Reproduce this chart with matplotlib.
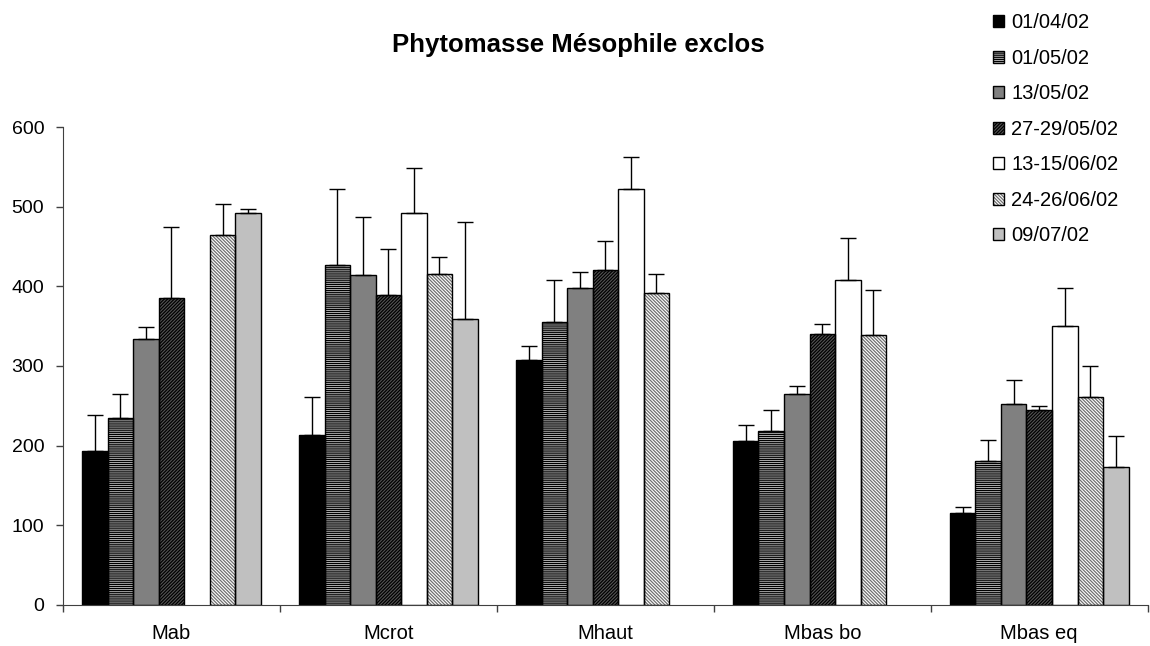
import numpy as np
import matplotlib
matplotlib.use("Agg")
import matplotlib.pyplot as plt
from matplotlib.patches import Patch
from matplotlib.legend_handler import HandlerBase
from matplotlib.patches import Rectangle

plt.rcParams['font.family'] = ['Liberation Sans', 'DejaVu Sans']
plt.rcParams['hatch.linewidth'] = 0.9

categories = ["Mab", "Mcrot", "Mhaut", "Mbas bo", "Mbas eq"]
series_labels = ["01/04/02", "01/05/02", "13/05/02", "27-29/05/02",
                 "13-15/06/02", "24-26/06/02", "09/07/02"]
nan = np.nan
# mean values per series for each category
s_0104 = [193, 214, 307, 206, 115]
s_0105 = [235, 427, 355, 219, 181]
s_1305 = [334, 414, 398, 265, 252]
s_2729 = [385, 389, 421, 340, 245]
s_1315 = [nan, 492, 522, 408, 350]
s_2426 = [465, 416, 391, 339, 261]
s_0907 = [492, 359, nan, nan, 173]
# upper error (top of whisker)
e_0104 = [238, 261, 325, 226, 123]
e_0105 = [265, 522, 408, 245, 207]
e_1305 = [349, 487, 418, 275, 283]
e_2729 = [474, 447, 457, 353, 250]
e_1315 = [nan, 548, 562, 461, 398]
e_2426 = [503, 437, 415, 395, 300]
e_0907 = [497, 481, nan, nan, 212]

values = [s_0104, s_0105, s_1305, s_2729, s_1315, s_2426, s_0907]
tops = [e_0104, e_0105, e_1305, e_2729, e_1315, e_2426, e_0907]
yticks = [0, 100, 200, 300, 400, 500, 600]

styles = [
    dict(facecolor='black', hatch=None, hc='black'),
    dict(facecolor='#c8c8c8', hatch='-' * 8, hc='black'),
    dict(facecolor='#808080', hatch=None, hc='black'),
    dict(facecolor='#555555', hatch='/' * 10, hc='black'),
    dict(facecolor='white', hatch=None, hc='black'),
    dict(facecolor='white', hatch='\\' * 10, hc='#707070'),
    dict(facecolor='#c0c0c0', hatch=None, hc='black'),
]

fig = plt.figure(figsize=(11.5, 6.46), dpi=100)
ax = fig.add_axes([0.0548, 0.0635, 0.9432, 0.7399])

x = np.arange(len(categories))
w = 1.0 / 8.5
for i, (vals, tp, st) in enumerate(zip(values, tops, styles)):
    v = np.array(vals, dtype=float)
    t = np.array(tp, dtype=float)
    pos = x + (i - 3) * w
    ax.bar(pos, v, width=w, facecolor=st['facecolor'], hatch=st['hatch'],
           edgecolor=st['hc'], linewidth=0, zorder=2)
    ax.bar(pos, v, width=w, fill=False, edgecolor='black', linewidth=1.0, zorder=2.5)
    err = t - v
    yerr = np.vstack([np.zeros_like(err), err])
    ax.errorbar(pos, v, yerr=yerr, fmt='none', ecolor='black',
                elinewidth=1.0, capsize=5.5, capthick=1.0, zorder=3)

ax.set_xlim(-0.5, len(categories) - 0.5)
ax.set_ylim(0, 600)
ax.set_yticks(yticks)
ax.set_yticklabels([str(t) for t in yticks])
ax.set_xticks(np.arange(len(categories) + 1) - 0.5)
ax.set_xticklabels([])
ax.set_xticks(x, minor=True)
ax.set_xticklabels(categories, minor=True)
ax.tick_params(axis='x', which='major', length=5, width=1, direction='out', color='#404040')
ax.tick_params(axis='x', which='minor', length=0, pad=14, labelsize=14.5)
ax.tick_params(axis='y', length=5, width=1, direction='out', pad=8.5, labelsize=14, color='#404040')
for s in ['top', 'right']:
    ax.spines[s].set_visible(False)
ax.spines['left'].set_color('#404040')
ax.spines['bottom'].set_color('#404040')

fig.text(0.503, 0.930, "Phytomasse Mésophile exclos", ha='center', va='center',
         fontsize=18.5, fontweight='bold')


class SquareHandler(HandlerBase):
    def create_artists(self, legend, orig_handle, xdescent, ydescent, width, height, fontsize, trans):
        st = orig_handle.st
        r1 = Rectangle((-xdescent, -ydescent), width, height, facecolor=st['facecolor'],
                       hatch=st['hatch'], edgecolor=st['hc'], linewidth=0, transform=trans)
        r2 = Rectangle((-xdescent, -ydescent), width, height, fill=False,
                       edgecolor='black', linewidth=1.0, transform=trans)
        return [r1, r2]


handles = []
for st in styles:
    p = Patch(facecolor=st['facecolor'])
    p.st = st
    handles.append(p)
fig.legend(handles, series_labels, loc='upper left', bbox_to_anchor=(0.853, 0.998),
           frameon=False, fontsize=14.5, handlelength=0.55, handleheight=0.55,
           handletextpad=0.35, labelspacing=0.82, borderaxespad=0.2,
           handler_map={Patch: SquareHandler()})

fig.savefig("out.png", dpi=100)
